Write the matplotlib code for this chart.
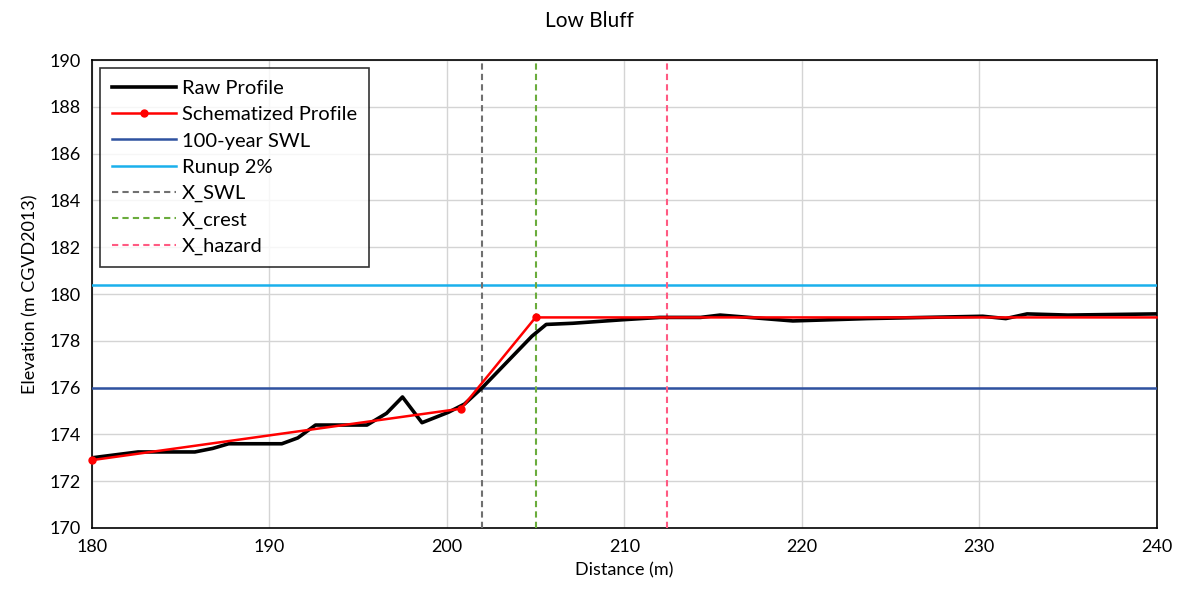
import matplotlib
matplotlib.use('Agg')
import matplotlib.pyplot as plt

plt.rcParams['font.family'] = ['Lato', 'DejaVu Sans']

# Perfil medido (Raw Profile)
raw_x = [180.0, 182.6, 185.8, 186.8, 187.7, 190.7, 191.6, 192.6, 195.5, 196.6, 197.5,
         198.6, 200.1, 201.0, 202.0, 204.8, 205.6, 207.1, 209.9, 212.0, 214.3, 215.4,
         219.5, 223.7, 230.2, 231.5, 232.7, 235.0, 240.0]
raw_y = [173.0, 173.25, 173.25, 173.4, 173.6, 173.6, 173.85, 174.4, 174.4, 174.9, 175.6,
         174.5, 174.95, 175.3, 176.0, 178.2, 178.7, 178.75, 178.9, 179.0, 179.0, 179.1,
         178.85, 178.95, 179.05, 178.95, 179.15, 179.1, 179.15]

# Perfil esquematizado
sch_x = [180.0, 200.8, 205.0, 240.0]
sch_y = [172.9, 175.1, 179.0, 179.0]

swl_100 = 176.0
runup_2 = 180.4
x_swl = 202.0
x_crest = 205.0
x_hazard = 212.4

fig = plt.figure(figsize=(11.79, 6.03), dpi=100)
ax = fig.add_axes([0.078, 0.1244, 0.903, 0.776])

ax.grid(True, color='#d4d4d4', linewidth=1.0, zorder=0)
ax.set_axisbelow(True)

ax.plot(raw_x, raw_y, color='black', linewidth=2.6, label='Raw Profile', zorder=4)
ax.plot(sch_x, sch_y, color='#ff0000', linewidth=1.8, marker='o', markersize=5,
        markevery=[0, 1, 2], label='Schematized Profile', zorder=5, clip_on=False)
ax.axhline(swl_100, color='#2f52a0', linewidth=1.8, label='100-year SWL', zorder=3)
ax.axhline(runup_2, color='#1ab0ec', linewidth=1.8, label='Runup 2%', zorder=3)
ax.axvline(x_swl, color='#707070', linewidth=1.5, linestyle=(0, (3, 2)), label='X_SWL', zorder=3)
ax.axvline(x_crest, color='#6aac3c', linewidth=1.5, linestyle=(0, (3, 2)), label='X_crest', zorder=3)
ax.axvline(x_hazard, color='#ff5a82', linewidth=1.5, linestyle=(0, (3, 2)), label='X_hazard', zorder=3)

ax.set_xlim(180, 240)
ax.set_ylim(170, 190)
ax.set_xticks(range(180, 241, 10))
ax.set_yticks(range(170, 191, 2))
ax.tick_params(labelsize=13, length=0, pad=8)
for s in ax.spines.values():
    s.set_color('black')
    s.set_linewidth(1.2)

ax.set_xlabel('Distance (m)', fontsize=13, labelpad=5)
ax.set_ylabel('Elevation (m CGVD2013)', fontsize=13, labelpad=8)
fig.text(0.5, 0.965, 'Low Bluff', ha='center', va='center', fontsize=15)

# Leyenda arriba a la izquierda, con marco negro
leg = ax.legend(loc='upper left', bbox_to_anchor=(0.0075, 0.983), borderaxespad=0,
                fontsize=14.5, frameon=True, fancybox=False, edgecolor='black',
                handlelength=3.2, handletextpad=0.25, labelspacing=0.45,
                borderpad=0.6)
leg.get_frame().set_linewidth(1.2)

fig.savefig('out.png', dpi=100)
